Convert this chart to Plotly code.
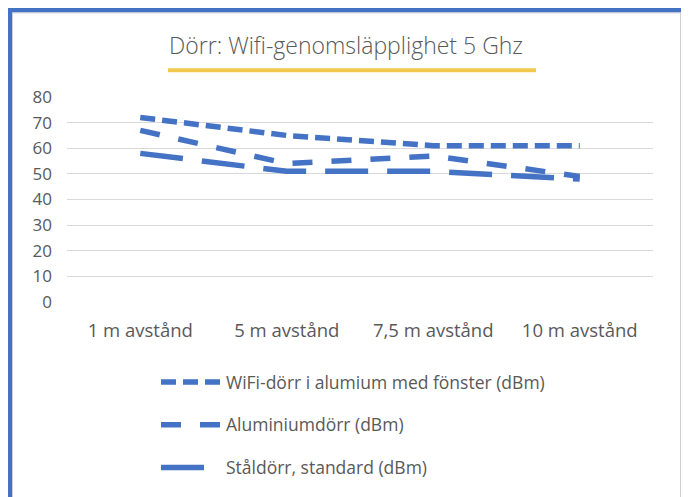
import plotly.graph_objects as go

categories = ["1 m avstånd", "5 m avstånd", "7,5 m avstånd", "10 m avstånd"]
wifi_door = [72, 65, 61, 61]
alu_door = [67, 54, 57, 49]
steel_door = [58, 51, 51, 48]
series_names = [
    "WiFi-dörr i alumium med fönster (dBm)",
    "Aluminiumdörr (dBm)",
    "Ståldörr, standard (dBm)",
]
y_ticks = [0, 10, 20, 30, 40, 50, 60, 70, 80]

# the page body adds an 8px margin, so the figure is drawn 8px smaller
OFF = 8
W, H = 689 - OFF, 497 - OFF
L, R, T, B = 67 - OFF, 653 - OFF, 97 - OFF, 303 - OFF  # plot area in figure px


def px(x):  # page x -> paper
    return (x - OFF - L) / (R - L)


def py(y):  # page y -> paper
    return (B - (y - OFF)) / (B - T)


BLUE = "#4472C4"
TXT = "#595959"
FONT = "Open Sans"

fig = go.Figure()
dashes = ["15px,7px", "20px,19px", "43px,19px"]
for i, (name, vals) in enumerate(zip(series_names, [wifi_door, alu_door, steel_door])):
    fig.add_trace(go.Scatter(
        x=categories, y=vals, name=name, mode="lines",
        line=dict(color=BLUE, width=5.5, dash=dashes[i]),
        legendgroup=f"g{i}",
    ))

shapes = [
    # outer blue frame
    dict(type="rect", xref="paper", yref="paper",
         x0=px(9.5), x1=px(684), y0=py(520), y1=py(9.5),
         line=dict(color=BLUE, width=5), layer="below"),
    dict(type="rect", xref="paper", yref="paper",
         x0=px(12.5), x1=px(680.5), y0=py(520), y1=py(12.5),
         line=dict(color="#D0D0D0", width=1), layer="below"),
    # yellow title underline
    dict(type="line", xref="paper", yref="paper",
         x0=px(168), x1=px(536), y0=py(70), y1=py(70),
         line=dict(color="#F2C94C", width=4)),
]

fig.update_layout(
    width=W, height=H,
    margin=dict(l=L, r=W - R, t=T, b=H - B),
    paper_bgcolor="white", plot_bgcolor="white",
    font=dict(family=FONT, color=TXT, size=14),
    title=dict(text="Dörr: Wifi-genomsläpplighet 5 Ghz", xref="container", yref="container",
               x=(346 - OFF) / W, y=1 - (46 - OFF) / H, xanchor="center", yanchor="middle",
               font=dict(family=FONT, size=23, color=TXT, weight=300)),
    showlegend=True,
    legend=dict(x=px(156), y=py(364), xanchor="left", yanchor="top",
                xref="paper", yref="paper", tracegroupgap=17,
                font=dict(family=FONT, size=17.5, color=TXT),
                bgcolor="rgba(0,0,0,0)", itemwidth=60),
    shapes=shapes,
    xaxis=dict(showgrid=False, showline=False, zeroline=False, ticks="",
               ticklabelstandoff=15, tickfont=dict(size=18.5, color=TXT),
               range=[-0.5, 3.5]),
    yaxis=dict(range=[0, 80], tickvals=y_ticks, showgrid=True, gridcolor="#D9D9D9",
               gridwidth=1.3, zeroline=False, showline=False, ticks="",
               ticklabelstandoff=14, tickfont=dict(size=17, color=TXT)),
)

fig.write_html("out.html")
